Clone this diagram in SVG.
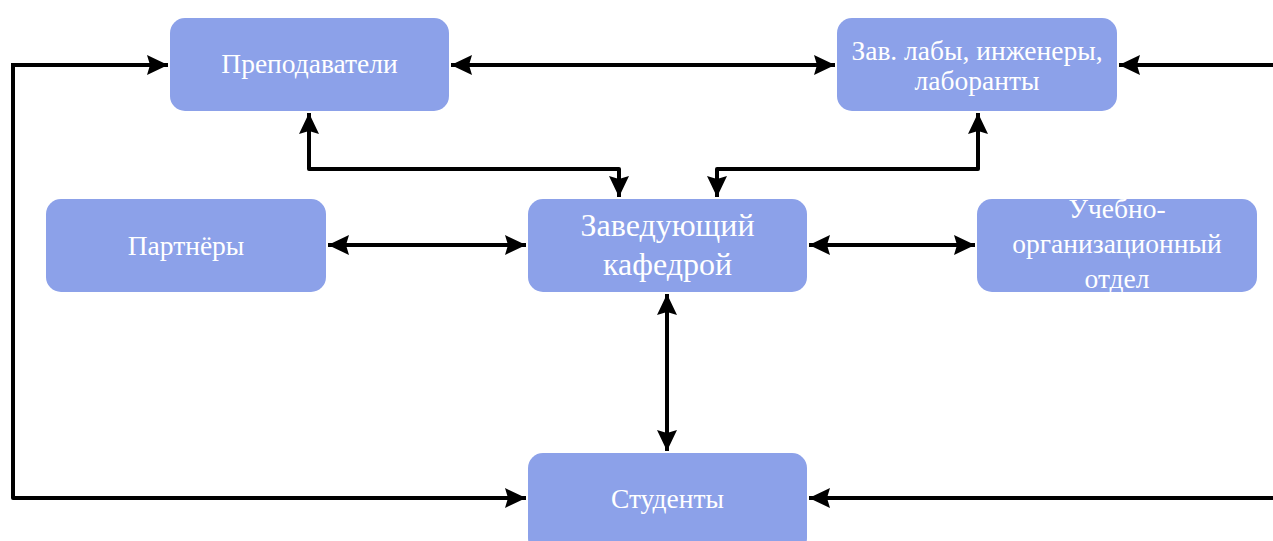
<svg xmlns="http://www.w3.org/2000/svg" width="1273" height="541" viewBox="0 0 1273 541">
  <style>
    .box { fill: #8ca1e9; }
    .lbl { fill: #ffffff; font-family: "Liberation Serif", "Times New Roman", serif; font-size: 27.5px; text-anchor: middle; }
    .big { font-size: 32px; }
    .wire { fill: none; stroke: #000000; stroke-width: 4; stroke-linejoin: round; }
  </style>
  <defs>
    <marker id="head" markerUnits="userSpaceOnUse" markerWidth="22" markerHeight="22" viewBox="0 0 22 22" refX="21" refY="11" orient="auto-start-reverse">
      <path d="M0,1 L21,11 L0,21 L3,11 Z" fill="#000000"/>
    </marker>
  </defs>

  <g id="connectors">
    <!-- left loop: teachers and students -->
    <path class="wire" d="M13,65 L168,65" marker-end="url(#head)"/>
    <path class="wire" d="M13,63 L13,498 L526,498" marker-end="url(#head)"/>
    <!-- right loop, coming in from beyond the edge -->
    <path class="wire" d="M1275,65 L1119,65" marker-end="url(#head)"/>
    <path class="wire" d="M1275,498 L809,498" marker-end="url(#head)"/>
    <!-- teachers <-> lab staff -->
    <path class="wire" d="M451,65 L835,65" marker-start="url(#head)" marker-end="url(#head)"/>
    <!-- teachers <-> head -->
    <path class="wire" d="M309,113 L309,169 L619,169 L619,197" marker-start="url(#head)" marker-end="url(#head)"/>
    <!-- lab staff <-> head -->
    <path class="wire" d="M978,113 L978,169 L717,169 L717,197" marker-start="url(#head)" marker-end="url(#head)"/>
    <!-- partners <-> head -->
    <path class="wire" d="M328,245 L526,245" marker-start="url(#head)" marker-end="url(#head)"/>
    <!-- head <-> study office -->
    <path class="wire" d="M809,245 L975,245" marker-start="url(#head)" marker-end="url(#head)"/>
    <!-- head <-> students -->
    <path class="wire" d="M667,294 L667,451" marker-start="url(#head)" marker-end="url(#head)"/>
  </g>

  <g id="teachers">
    <rect class="box" x="170" y="18" width="279" height="93" rx="15"/>
    <text class="lbl" x="309.5" y="73">Преподаватели</text>
  </g>
  <g id="lab-staff">
    <rect class="box" x="837" y="18" width="280" height="93" rx="15"/>
    <text class="lbl" x="977" y="60">Зав. лабы, инженеры,</text>
    <text class="lbl" x="977" y="90">лаборанты</text>
  </g>
  <g id="partners">
    <rect class="box" x="46" y="199" width="280" height="93" rx="15"/>
    <text class="lbl" x="186" y="255">Партнёры</text>
  </g>
  <g id="head-of-department">
    <rect class="box" x="528" y="199" width="279" height="93" rx="15"/>
    <text class="lbl big" x="667.5" y="236">Заведующий</text>
    <text class="lbl big" x="667.5" y="275">кафедрой</text>
  </g>
  <g id="study-office">
    <rect class="box" x="977" y="199" width="280" height="93" rx="15"/>
    <text class="lbl" x="1117" y="218">Учебно-</text>
    <text class="lbl" x="1117" y="253">организационный</text>
    <text class="lbl" x="1117" y="288">отдел</text>
  </g>
  <g id="students">
    <rect class="box" x="528" y="453" width="279" height="100" rx="15"/>
    <text class="lbl" x="667.5" y="508">Студенты</text>
  </g>
</svg>
